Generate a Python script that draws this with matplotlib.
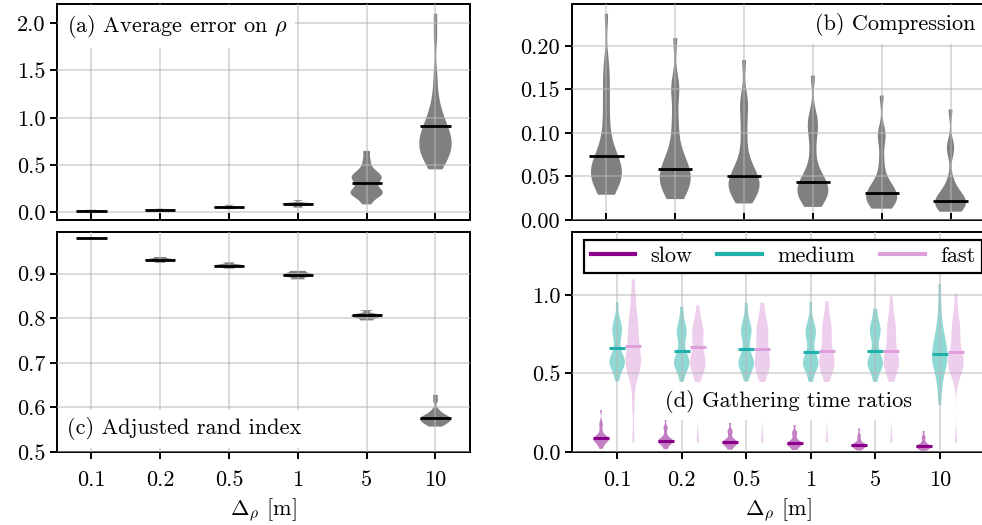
import matplotlib.pyplot as plt
import numpy as np
from matplotlib.lines import Line2D
from matplotlib.ticker import FormatStrFormatter

plt.rcParams['font.family'] = 'serif'
plt.rcParams['font.serif'] = ['cmr10']
plt.rcParams['mathtext.fontset'] = 'cm'
plt.rcParams['axes.formatter.use_mathtext'] = True
plt.rcParams['font.size'] = 16

deltas = ['0.1', '0.2', '0.5', '1', '5', '10']

# (a) average error on rho, samples per delta
err_rho = [
    [0.012, 0.016, 0.018, 0.02, 0.02, 0.022, 0.024, 0.028],
    [0.022, 0.026, 0.028, 0.03, 0.03, 0.032, 0.034, 0.04],
    [0.035, 0.045, 0.05, 0.055, 0.055, 0.06, 0.065, 0.08],
    [0.05, 0.07, 0.08, 0.085, 0.09, 0.095, 0.1, 0.13],
    [0.085, 0.15, 0.18, 0.2, 0.21, 0.22, 0.24, 0.28, 0.32, 0.35, 0.36, 0.38, 0.4, 0.42, 0.47, 0.55, 0.65],
    [0.455, 0.5, 0.55, 0.58, 0.6, 0.63, 0.65, 0.68, 0.7, 0.72, 0.75, 0.78, 0.8, 0.82, 0.85, 0.88, 0.9, 0.95,
     1.0, 1.05, 1.12, 1.25, 1.45, 1.85, 2.1],
]
err_rho_mean = [0.02, 0.03, 0.056, 0.086, 0.315, 0.91]

# (b) compression
compression = [
    [0.029, 0.035, 0.04, 0.045, 0.05, 0.052, 0.055, 0.058, 0.06, 0.065, 0.07, 0.075, 0.085, 0.1, 0.12, 0.14,
     0.16, 0.18, 0.237],
    [0.024, 0.03, 0.035, 0.04, 0.045, 0.048, 0.05, 0.055, 0.06, 0.065, 0.07, 0.08, 0.1, 0.12, 0.15, 0.155,
     0.209],
    [0.019, 0.025, 0.03, 0.035, 0.038, 0.04, 0.042, 0.045, 0.05, 0.055, 0.06, 0.07, 0.09, 0.11, 0.13, 0.14, 0.184],
    [0.015, 0.02, 0.025, 0.03, 0.032, 0.035, 0.038, 0.04, 0.045, 0.05, 0.06, 0.08, 0.1, 0.11, 0.12, 0.166],
    [0.013, 0.017, 0.02, 0.022, 0.025, 0.027, 0.03, 0.033, 0.036, 0.04, 0.05, 0.07, 0.095, 0.1, 0.143],
    [0.0095, 0.012, 0.015, 0.017, 0.019, 0.021, 0.023, 0.025, 0.028, 0.033, 0.045, 0.08, 0.085, 0.127],
]
compression_mean = [0.073, 0.059, 0.051, 0.044, 0.031, 0.022]

# (c) adjusted rand index
ari = [
    [0.977, 0.978, 0.979, 0.979, 0.98, 0.981],
    [0.924, 0.928, 0.93, 0.931, 0.932, 0.934, 0.937],
    [0.911, 0.915, 0.917, 0.918, 0.919, 0.921, 0.925],
    [0.887, 0.892, 0.895, 0.897, 0.899, 0.902, 0.906],
    [0.795, 0.8, 0.803, 0.805, 0.807, 0.81, 0.818],
    [0.557, 0.56, 0.563, 0.566, 0.568, 0.57, 0.572, 0.574, 0.575, 0.577, 0.579, 0.581, 0.584, 0.588, 0.595,
     0.615, 0.628],
]
ari_mean = [0.979, 0.931, 0.918, 0.897, 0.806, 0.576]

# (d) gathering time ratios
slow = [
    [0.02, 0.04, 0.055, 0.065, 0.07, 0.075, 0.08, 0.08, 0.085, 0.09, 0.095, 0.1, 0.11, 0.14, 0.17, 0.19, 0.267],
    [0.018, 0.035, 0.048, 0.055, 0.06, 0.065, 0.068, 0.07, 0.075, 0.08, 0.085, 0.095, 0.12, 0.15, 0.16, 0.21],
    [0.015, 0.03, 0.04, 0.048, 0.053, 0.057, 0.06, 0.065, 0.07, 0.075, 0.085, 0.11, 0.13, 0.14, 0.185],
    [0.013, 0.025, 0.035, 0.042, 0.047, 0.05, 0.054, 0.058, 0.062, 0.068, 0.08, 0.1, 0.12, 0.13, 0.17],
    [0.01, 0.02, 0.028, 0.033, 0.037, 0.04, 0.043, 0.046, 0.05, 0.055, 0.07, 0.09, 0.11, 0.15],
    [0.008, 0.016, 0.022, 0.027, 0.031, 0.034, 0.037, 0.04, 0.044, 0.05, 0.065, 0.085, 0.1, 0.133],
]
slow_mean = [0.087, 0.072, 0.064, 0.057, 0.045, 0.038]

medium = [
    [0.45, 0.5, 0.53, 0.55, 0.56, 0.57, 0.58, 0.59, 0.6, 0.62, 0.66, 0.7, 0.74, 0.76, 0.78, 0.8, 0.82, 0.86, 0.955],
    [0.447, 0.5, 0.53, 0.55, 0.56, 0.57, 0.58, 0.6, 0.62, 0.65, 0.7, 0.74, 0.76, 0.78, 0.8, 0.85, 0.924],
    [0.45, 0.5, 0.53, 0.55, 0.56, 0.57, 0.58, 0.6, 0.63, 0.67, 0.72, 0.75, 0.77, 0.79, 0.81, 0.86, 0.95],
    [0.447, 0.5, 0.53, 0.55, 0.56, 0.57, 0.58, 0.6, 0.62, 0.66, 0.71, 0.74, 0.76, 0.78, 0.8, 0.85, 0.955],
    [0.447, 0.5, 0.53, 0.55, 0.56, 0.57, 0.58, 0.6, 0.63, 0.67, 0.72, 0.75, 0.77, 0.79, 0.81, 0.85, 0.913],
    [0.3, 0.4, 0.45, 0.5, 0.53, 0.55, 0.57, 0.59, 0.6, 0.62, 0.64, 0.66, 0.68, 0.7, 0.73, 0.76, 0.8, 0.86,
     0.95, 1.07],
]
medium_mean = [0.659, 0.642, 0.653, 0.638, 0.642, 0.627]

fast = [
    [0.06, 0.3, 0.45, 0.5, 0.53, 0.55, 0.56, 0.57, 0.59, 0.61, 0.64, 0.67, 0.7, 0.74, 0.77, 0.8, 0.83, 0.87,
     0.93, 1.0, 1.1],
    [0.06, 0.44, 0.5, 0.53, 0.55, 0.56, 0.57, 0.58, 0.6, 0.63, 0.67, 0.71, 0.74, 0.76, 0.78, 0.8, 0.84, 0.934],
    [0.06, 0.44, 0.5, 0.53, 0.55, 0.56, 0.57, 0.59, 0.62, 0.65, 0.68, 0.72, 0.75, 0.77, 0.79, 0.82, 0.87, 0.95],
    [0.06, 0.44, 0.5, 0.53, 0.55, 0.56, 0.57, 0.58, 0.6, 0.63, 0.66, 0.7, 0.74, 0.77, 0.79, 0.82, 0.87, 0.96],
    [0.06, 0.44, 0.5, 0.53, 0.55, 0.56, 0.57, 0.58, 0.6, 0.62, 0.66, 0.7, 0.74, 0.77, 0.8, 0.83, 0.89, 0.99],
    [0.06, 0.458, 0.5, 0.53, 0.55, 0.56, 0.57, 0.58, 0.6, 0.62, 0.66, 0.7, 0.74, 0.77, 0.8, 0.83, 0.9, 1.01],
]
fast_mean = [0.676, 0.669, 0.657, 0.646, 0.642, 0.638]

speed_names = ['slow', 'medium', 'fast']
speed_colors = ['#8b008b', '#20b2aa', '#dda0dd']

pos = np.arange(len(deltas))

fig = plt.figure(figsize=(9.82, 5.25), dpi=100)
ax_a = fig.add_axes([0.058, 0.581, 0.4205, 0.411])
ax_b = fig.add_axes([0.5825, 0.581, 0.4205, 0.411])
ax_c = fig.add_axes([0.058, 0.139, 0.4205, 0.419])
ax_d = fig.add_axes([0.5825, 0.139, 0.4205, 0.419])


def violins(ax, data, x, width, color, alpha, bw=0.3):
    parts = ax.violinplot(data, positions=x, widths=width, showextrema=False, bw_method=bw)
    for body in parts['bodies']:
        body.set_facecolor(color)
        body.set_edgecolor('none')
        body.set_alpha(alpha)
        body.set_zorder(1)


def mean_lines(ax, means, x, half, color, lw=2):
    ax.hlines(means, x - half, x + half, colors=color, lw=lw, zorder=3)


violins(ax_a, err_rho, pos, 0.47, 'gray', 1)
mean_lines(ax_a, err_rho_mean, pos, 0.22, 'black')
violins(ax_b, compression, pos, 0.45, 'gray', 1)
mean_lines(ax_b, compression_mean, pos, 0.25, 'black')
violins(ax_c, ari, pos, 0.45, 'gray', 1)
mean_lines(ax_c, ari_mean, pos, 0.22, 'black')

offsets = [-0.25, 0.0, 0.25]
for data, means, col, off in zip([slow, medium, fast], [slow_mean, medium_mean, fast_mean], speed_colors, offsets):
    violins(ax_d, data, pos + off, 0.24, col, 0.5)
    mean_lines(ax_d, means, pos + off, 0.125, col, lw=2.2)

for ax in [ax_a, ax_b, ax_c, ax_d]:
    ax.set_axisbelow(False)
    ax.grid(True, color='#b8b8b8', alpha=0.6, lw=1.2)
    ax.set_xticks(pos)
    for s in ax.spines.values():
        s.set_linewidth(1.4)
        s.set_color('black')
    ax.tick_params(axis='y', direction='out', length=5, width=1.4)

for ax in [ax_a, ax_b, ax_c]:
    ax.set_xlim(-0.5, 5.5)
ax_d.set_xlim(-0.7, 5.7)

for ax in [ax_a, ax_b]:
    ax.tick_params(axis='x', direction='in', length=5, width=1.4, labelbottom=False)
for ax in [ax_c, ax_d]:
    ax.tick_params(axis='x', direction='out', length=5, width=1.4, pad=8)
    ax.set_xticklabels(deltas)
    ax.set_xlabel(r'$\Delta_\rho$ [m]', labelpad=5)

ax_a.set_ylim(-0.08, 2.2)
ax_a.set_yticks([0, 0.5, 1.0, 1.5, 2.0])
ax_a.yaxis.set_major_formatter(FormatStrFormatter('%.1f'))
ax_b.set_ylim(0, 0.248)
ax_b.set_yticks([0, 0.05, 0.10, 0.15, 0.20])
ax_b.yaxis.set_major_formatter(FormatStrFormatter('%.2f'))
ax_c.set_ylim(0.5, 0.993)
ax_c.set_yticks([0.5, 0.6, 0.7, 0.8, 0.9])
ax_c.yaxis.set_major_formatter(FormatStrFormatter('%.1f'))
ax_d.set_ylim(0, 1.4)
ax_d.set_yticks([0, 0.5, 1.0])
ax_d.yaxis.set_major_formatter(FormatStrFormatter('%.1f'))

box = dict(boxstyle='square,pad=0.35', fc='white', ec='none')
ax_a.text(0.024, 0.872, r'(a) Average error on $\rho$', transform=ax_a.transAxes, va='baseline', bbox=box, zorder=4)
ax_b.text(0.976, 0.88, '(b) Compression', transform=ax_b.transAxes, ha='right', va='baseline', bbox=box, zorder=4)
ax_c.text(0.024, 0.08, '(c) Adjusted rand index', transform=ax_c.transAxes, va='baseline', bbox=box, zorder=4)
ax_d.text(0.525, 0.206, '(d) Gathering time ratios', transform=ax_d.transAxes, ha='center', va='baseline',
          bbox=box, zorder=4)

handles = [Line2D([], [], color=c, lw=3) for c in speed_colors]
leg = ax_d.legend(handles, speed_names, loc='upper left', bbox_to_anchor=(0.029, 0, 0.964, 0.964),
                  mode='expand', ncol=3, borderaxespad=0, fancybox=False, framealpha=1,
                  edgecolor='black', handlelength=2.0, handletextpad=0.7, borderpad=0.3)
leg.get_frame().set_linewidth(1.6)
leg.set_zorder(5)

fig.savefig('out.png', dpi=100)
